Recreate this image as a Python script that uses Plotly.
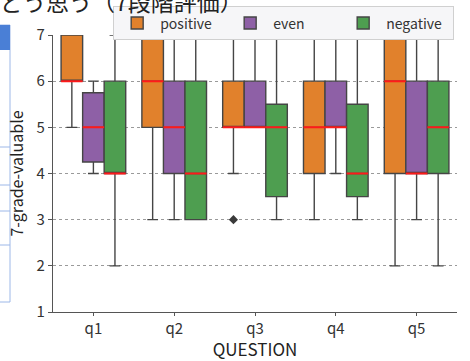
import plotly.graph_objects as go

questions = ["q1", "q2", "q3", "q4", "q5"]
hues = ["positive", "even", "negative"]
colors = {"positive": "#e1812c", "even": "#8e60a6", "negative": "#4e9e50"}

# box statistics per hue, per question
q1_vals = {
    "positive": [6, 5, 5, 4, 4],
    "even":     [4.25, 4, 5, 5, 4],
    "negative": [4, 3, 3.5, 3.5, 4],
}
median_vals = {
    "positive": [6, 6, 5, 5, 6],
    "even":     [5, 5, 5, 5, 4],
    "negative": [4, 4, 5, 4, 5],
}
q3_vals = {
    "positive": [7, 7, 6, 6, 7],
    "even":     [5.75, 6, 6, 6, 6],
    "negative": [6, 6, 5.5, 5.5, 6],
}
low_vals = {
    "positive": [5, 3, 4, 3, 2],
    "even":     [4, 3, 5, 4, 3],
    "negative": [2, 3, 3, 3, 2],
}
high_vals = {
    "positive": [7, 7, 7, 7, 7],
    "even":     [6, 7, 7, 7, 7],
    "negative": [7, 7, 7, 7, 7],
}
# outliers: (question index, hue, value)
outliers = [(2, "positive", 3)]

yticks = [1, 2, 3, 4, 5, 6, 7]

FONT = "Noto Sans CJK JP, Noto Sans, sans-serif"
group_width = 0.8
bw = group_width / len(hues)

def offset(h):
    return (hues.index(h) - (len(hues) - 1) / 2) * bw

fig = go.Figure()
for h in hues:
    xs = [i + offset(h) for i in range(len(questions))]
    fig.add_trace(go.Box(
        x=xs, q1=q1_vals[h], median=median_vals[h], q3=q3_vals[h],
        lowerfence=low_vals[h], upperfence=high_vals[h],
        width=bw, whiskerwidth=0.5, name=h,
        fillcolor=colors[h], line=dict(color="#454545", width=1.4),
        boxpoints=False, hoverinfo="skip",
    ))
# red median lines
for h in hues:
    xs = [i + offset(h) for i in range(len(questions))]
    m = median_vals[h]
    fig.add_trace(go.Box(
        x=xs, q1=m, median=m, q3=m, lowerfence=m, upperfence=m,
        width=bw, whiskerwidth=0, showlegend=False,
        fillcolor="rgba(0,0,0,0)", line=dict(color="#ff1a1a", width=2),
        boxpoints=False, hoverinfo="skip",
    ))
fig.add_trace(go.Scatter(
    x=[qi + offset(h) for qi, h, v in outliers],
    y=[v for qi, h, v in outliers],
    mode="markers", showlegend=False, hoverinfo="skip",
    marker=dict(symbol="diamond", size=7, color="#3a3a3a"),
))

fig.update_layout(
    width=470, height=361,
    margin=dict(l=53, r=13, t=35, b=49, autoexpand=False),
    paper_bgcolor="white", plot_bgcolor="white",
    font=dict(family=FONT, color="#333333"),
    showlegend=True,
    legend=dict(
        orientation="h", x=0.993, xanchor="right", y=1.103, yanchor="top",
        bgcolor="rgba(246,246,248,1)", bordercolor="#d0d0d0", borderwidth=1,
        font=dict(size=14, color="#333333"),
        itemwidth=36, entrywidth=62,
    ),
    xaxis=dict(
        range=[-0.5, len(questions) - 0.5],
        tickvals=list(range(len(questions))), ticktext=questions,
        showline=True, linecolor="#555555", linewidth=1.2,
        ticks="outside", ticklen=3, tickcolor="#555555",
        showgrid=False, zeroline=False,
        tickfont=dict(size=15, color="#333333"),
        title=dict(text="QUESTION", font=dict(size=17, color="#222222"), standoff=0),
    ),
    yaxis=dict(
        range=[1, 7], tickvals=yticks,
        showline=True, linecolor="#555555", linewidth=1.2,
        ticks="outside", ticklen=4, tickcolor="#555555",
        showgrid=True, gridcolor="#9a9a9a", griddash="dot", gridwidth=1,
        zeroline=False,
        tickfont=dict(size=15, color="#333333"),
        title=dict(text="7-grade-valuable", font=dict(size=16, color="#222222"), standoff=8),
    ),
    annotations=[dict(
        text="どう思う（7段階評価）", xref="paper", yref="paper",
        x=-0.135, xanchor="left", y=1.053, yanchor="bottom",
        showarrow=False, font=dict(size=23, color="#222222", family=FONT),
    )],
)

# left-edge panel fragment (from the surrounding page)
def px_x(p):
    return (p - 53) / 404.0
def px_y(p):
    return (312 - p) / 277.0

fig.add_shape(type="rect", xref="paper", yref="paper",
              x0=px_x(-2), x1=px_x(10), y0=px_y(302), y1=px_y(25),
              line=dict(color="#9db8e8", width=1), fillcolor="white", layer="below")
fig.add_shape(type="rect", xref="paper", yref="paper",
              x0=px_x(-2), x1=px_x(10), y0=px_y(50), y1=px_y(25),
              line=dict(width=0), fillcolor="#4a7fd6")
for yy in [147, 185, 211, 245]:
    fig.add_shape(type="line", xref="paper", yref="paper",
                  x0=px_x(-2), x1=px_x(10), y0=px_y(yy), y1=px_y(yy),
                  line=dict(color="#9db8e8", width=1))

fig.write_html("out.html", config={"displayModeBar": False},
               post_script="document.body.style.margin='0';document.body.style.overflow='hidden';")
